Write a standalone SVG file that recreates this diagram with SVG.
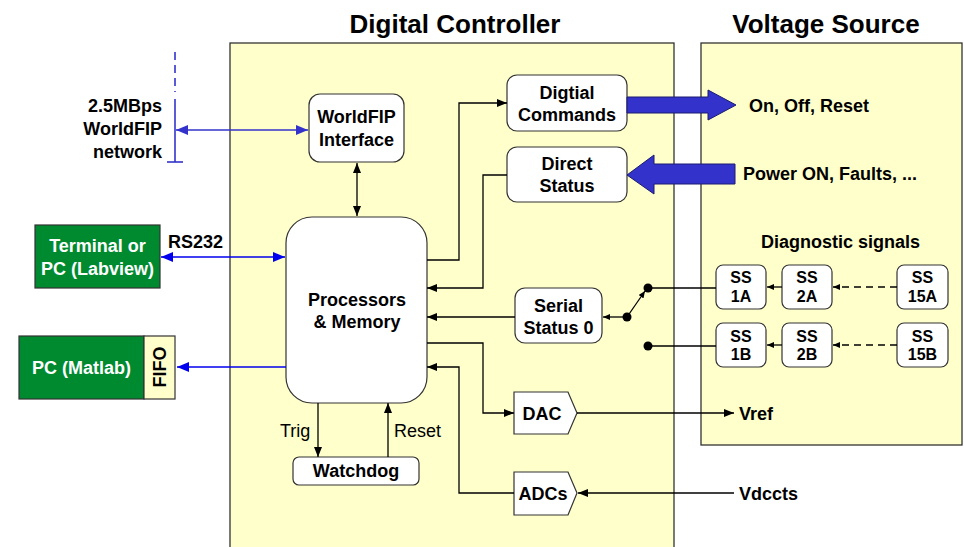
<svg xmlns="http://www.w3.org/2000/svg" width="964" height="547" viewBox="0 0 964 547">
  <defs>
    <style>
      text { font-family: "Liberation Sans", Arial, sans-serif; fill: #000; }
      .title { font-size: 26px; font-weight: bold; text-anchor: middle; }
      .lbl { font-size: 18px; font-weight: bold; }
      .box-t { font-size: 18px; font-weight: bold; text-anchor: middle; }
      .ss-t { font-size: 16px; font-weight: bold; text-anchor: middle; }
      .plain { font-size: 18px; }
      .white { fill: #fff; }
      .panel { fill: #FFFFCC; stroke: #333; stroke-width: 1.3; }
      .node { fill: #fff; stroke: #333; stroke-width: 1.2; }
      .host { fill: #008A30; stroke: #333; stroke-width: 1.2; }
      .wire { fill: none; stroke: #000; stroke-width: 1.3; }
      .bus { fill: none; stroke: #3333CC; stroke-width: 1.6; }
      .link { fill: none; stroke: #0000EE; stroke-width: 1.6; }
      .fat { fill: #3333CC; stroke: #1A1A70; stroke-width: 1; }
    </style>
    <marker id="ah" viewBox="0 0 10 8" refX="10" refY="4" markerWidth="10" markerHeight="8" markerUnits="userSpaceOnUse" orient="auto-start-reverse">
      <path d="M0,0 L10,4 L0,8 z" fill="#000"/>
    </marker>
    <marker id="ahs" viewBox="0 0 7 6" refX="7" refY="3" markerWidth="7" markerHeight="6" markerUnits="userSpaceOnUse" orient="auto-start-reverse">
      <path d="M0,0 L7,3 L0,6 z" fill="#000"/>
    </marker>
    <marker id="ahb" viewBox="0 0 12 10" refX="12" refY="5" markerWidth="12" markerHeight="10" markerUnits="userSpaceOnUse" orient="auto-start-reverse">
      <path d="M0,0 L12,5 L0,10 z" fill="#3333CC"/>
    </marker>
    <marker id="ahl" viewBox="0 0 12 10" refX="12" refY="5" markerWidth="12" markerHeight="10" markerUnits="userSpaceOnUse" orient="auto-start-reverse">
      <path d="M0,0 L12,5 L0,10 z" fill="#0000EE"/>
    </marker>
  </defs>

  <rect width="964" height="547" fill="#fff"/>

  <!-- Panels -->
  <g id="digital-controller">
    <rect class="panel" x="230" y="43" width="444" height="510"/>
    <text class="title" x="455" y="33">Digital Controller</text>
  </g>
  <g id="voltage-source">
    <rect class="panel" x="701" y="43" width="261" height="402"/>
    <text class="title" x="826" y="33">Voltage Source</text>
  </g>

  <!-- Nodes -->
  <g id="worldfip-network">
    <text class="lbl" x="162" y="112" text-anchor="end">2.5MBps</text>
    <text class="lbl" x="162" y="135" text-anchor="end">WorldFIP</text>
    <text class="lbl" x="162" y="158" text-anchor="end">network</text>
    <line x1="175" y1="52" x2="175" y2="92" stroke="#3333CC" stroke-width="1.6" stroke-dasharray="8,5"/>
    <line x1="175" y1="99" x2="175" y2="162" stroke="#3333CC" stroke-width="1.6"/>
    <line x1="167" y1="162" x2="183" y2="162" stroke="#3333CC" stroke-width="1.6"/>
  </g>

  <g id="worldfip-interface">
    <rect class="node" x="309" y="94" width="95" height="68" rx="11"/>
    <text class="box-t" x="356.5" y="123">WorldFIP</text>
    <text class="box-t" x="356.5" y="146">Interface</text>
  </g>

  <g id="processors">
    <rect class="node" x="286" y="217" width="141" height="186" rx="26"/>
    <text class="box-t" x="357" y="306">Processors</text>
    <text class="box-t" x="357" y="328">&amp; Memory</text>
  </g>

  <g id="digital-commands">
    <rect class="node" x="507" y="75" width="120" height="56" rx="10"/>
    <text class="box-t" x="567" y="99">Digtial</text>
    <text class="box-t" x="567" y="121">Commands</text>
  </g>

  <g id="direct-status">
    <rect class="node" x="507" y="147" width="120" height="55" rx="10"/>
    <text class="box-t" x="567" y="170">Direct</text>
    <text class="box-t" x="567" y="192">Status</text>
  </g>

  <g id="serial-status">
    <rect class="node" x="515" y="288" width="87" height="55" rx="10"/>
    <text class="box-t" x="558.5" y="312">Serial</text>
    <text class="box-t" x="558.5" y="334">Status 0</text>
  </g>

  <g id="watchdog">
    <rect class="node" x="293" y="457" width="126" height="28" rx="6"/>
    <text class="box-t" x="356" y="477">Watchdog</text>
  </g>

  <g id="dac">
    <path class="node" d="M514,392 L568,392 L577,413 L568,434 L514,434 Z"/>
    <text class="box-t" x="542" y="420">DAC</text>
  </g>

  <g id="adcs">
    <path class="node" d="M514,472 L568,472 L577,493 L568,515 L514,515 Z"/>
    <text class="box-t" x="543" y="500">ADCs</text>
  </g>

  <g id="terminal">
    <rect class="host" x="35" y="225" width="125" height="63"/>
    <text class="box-t white" x="97.5" y="252">Terminal or</text>
    <text class="box-t white" x="97.5" y="275">PC (Labview)</text>
  </g>

  <g id="pc-matlab">
    <rect class="host" x="19" y="336" width="125" height="63"/>
    <rect x="144" y="336" width="31" height="63" fill="#FFFFCC" stroke="#333" stroke-width="1.2"/>
    <text class="box-t white" x="81.5" y="374">PC (Matlab)</text>
    <text class="box-t" transform="translate(166,367) rotate(-90)" x="0" y="0">FIFO</text>
  </g>

  <g id="ss-1a">
    <rect class="node" x="716" y="265" width="50" height="44" rx="7"/>
    <text class="ss-t" x="741" y="283">SS</text>
    <text class="ss-t" x="741" y="302">1A</text>
  </g>
  <g id="ss-2a">
    <rect class="node" x="782" y="265" width="50" height="44" rx="7"/>
    <text class="ss-t" x="807" y="283">SS</text>
    <text class="ss-t" x="807" y="302">2A</text>
  </g>
  <g id="ss-15a">
    <rect class="node" x="897" y="265" width="51" height="44" rx="7"/>
    <text class="ss-t" x="922.5" y="283">SS</text>
    <text class="ss-t" x="922.5" y="302">15A</text>
  </g>
  <g id="ss-1b">
    <rect class="node" x="716" y="323" width="50" height="44" rx="7"/>
    <text class="ss-t" x="741" y="342">SS</text>
    <text class="ss-t" x="741" y="360">1B</text>
  </g>
  <g id="ss-2b">
    <rect class="node" x="782" y="323" width="50" height="44" rx="7"/>
    <text class="ss-t" x="807" y="342">SS</text>
    <text class="ss-t" x="807" y="360">2B</text>
  </g>
  <g id="ss-15b">
    <rect class="node" x="897" y="323" width="51" height="44" rx="7"/>
    <text class="ss-t" x="922.5" y="342">SS</text>
    <text class="ss-t" x="922.5" y="360">15B</text>
  </g>

  <!-- Signal labels -->
  <g id="signal-labels">
    <text class="lbl" x="749" y="112">On, Off, Reset</text>
    <text class="lbl" x="743" y="180">Power ON, Faults, ...</text>
    <text class="lbl" x="761" y="248">Diagnostic signals</text>
    <text class="lbl" x="168" y="248">RS232</text>
    <text class="lbl" x="739" y="420">Vref</text>
    <text class="lbl" x="739" y="500">Vdccts</text>
    <text class="plain" x="280" y="437">Trig</text>
    <text class="plain" x="394" y="437">Reset</text>
  </g>

  <!-- Connectors -->
  <g id="connectors">
    <!-- external links -->
    <line class="bus" x1="176" y1="130" x2="308" y2="130" marker-start="url(#ahb)" marker-end="url(#ahb)"/>
    <line class="link" x1="161" y1="257" x2="285" y2="257" marker-start="url(#ahl)" marker-end="url(#ahl)"/>
    <line class="link" x1="286" y1="367" x2="177" y2="367" marker-end="url(#ahl)"/>

    <!-- internal buses -->
    <line class="wire" x1="357" y1="163" x2="357" y2="216" marker-start="url(#ah)" marker-end="url(#ah)"/>
    <polyline class="wire" points="427,260 459,260 459,103 507,103" marker-end="url(#ah)"/>
    <polyline class="wire" points="507,175 483,175 483,288 427,288" marker-end="url(#ah)"/>
    <line class="wire" x1="515" y1="317" x2="427" y2="317" marker-end="url(#ah)"/>
    <polyline class="wire" points="427,343 483,343 483,413 514,413" marker-end="url(#ah)"/>
    <polyline class="wire" points="514,493 459,493 459,367 427,367" marker-end="url(#ah)"/>
    <line class="wire" x1="318" y1="403" x2="318" y2="457" marker-end="url(#ah)"/>
    <line class="wire" x1="388" y1="457" x2="388" y2="403" marker-end="url(#ah)"/>
    <line class="wire" x1="577" y1="413" x2="734" y2="413" marker-end="url(#ah)"/>
    <line class="wire" x1="734" y1="493" x2="578" y2="493" marker-end="url(#ah)"/>

    <!-- power commands and status -->
    <path class="fat" d="M627,97 L708,97 L708,90 L736,105 L708,120 L708,113 L627,113 Z"/>
    <path class="fat" d="M735,164 L654,164 L654,155 L627,175 L654,194 L654,184 L735,184 Z"/>

    <!-- serial status switch -->
    <line class="wire" x1="627" y1="317" x2="603" y2="317" marker-end="url(#ahs)"/>
    <line class="wire" x1="627" y1="317" x2="645" y2="291" marker-end="url(#ahs)"/>
    <circle cx="627" cy="317" r="4.5" fill="#000"/>
    <circle cx="648" cy="288" r="4.5" fill="#000"/>
    <circle cx="648" cy="346" r="4.5" fill="#000"/>
    <line class="wire" x1="648" y1="288" x2="716" y2="288"/>
    <line class="wire" x1="648" y1="346" x2="716" y2="346"/>

    <!-- diagnostic chains -->
    <line class="wire" x1="782" y1="287" x2="767" y2="287" marker-end="url(#ahs)"/>
    <line class="wire" x1="897" y1="287" x2="833" y2="287" stroke-dasharray="7,5" marker-end="url(#ahs)"/>
    <line class="wire" x1="782" y1="345" x2="767" y2="345" marker-end="url(#ahs)"/>
    <line class="wire" x1="897" y1="345" x2="833" y2="345" stroke-dasharray="7,5" marker-end="url(#ahs)"/>
  </g>
</svg>
